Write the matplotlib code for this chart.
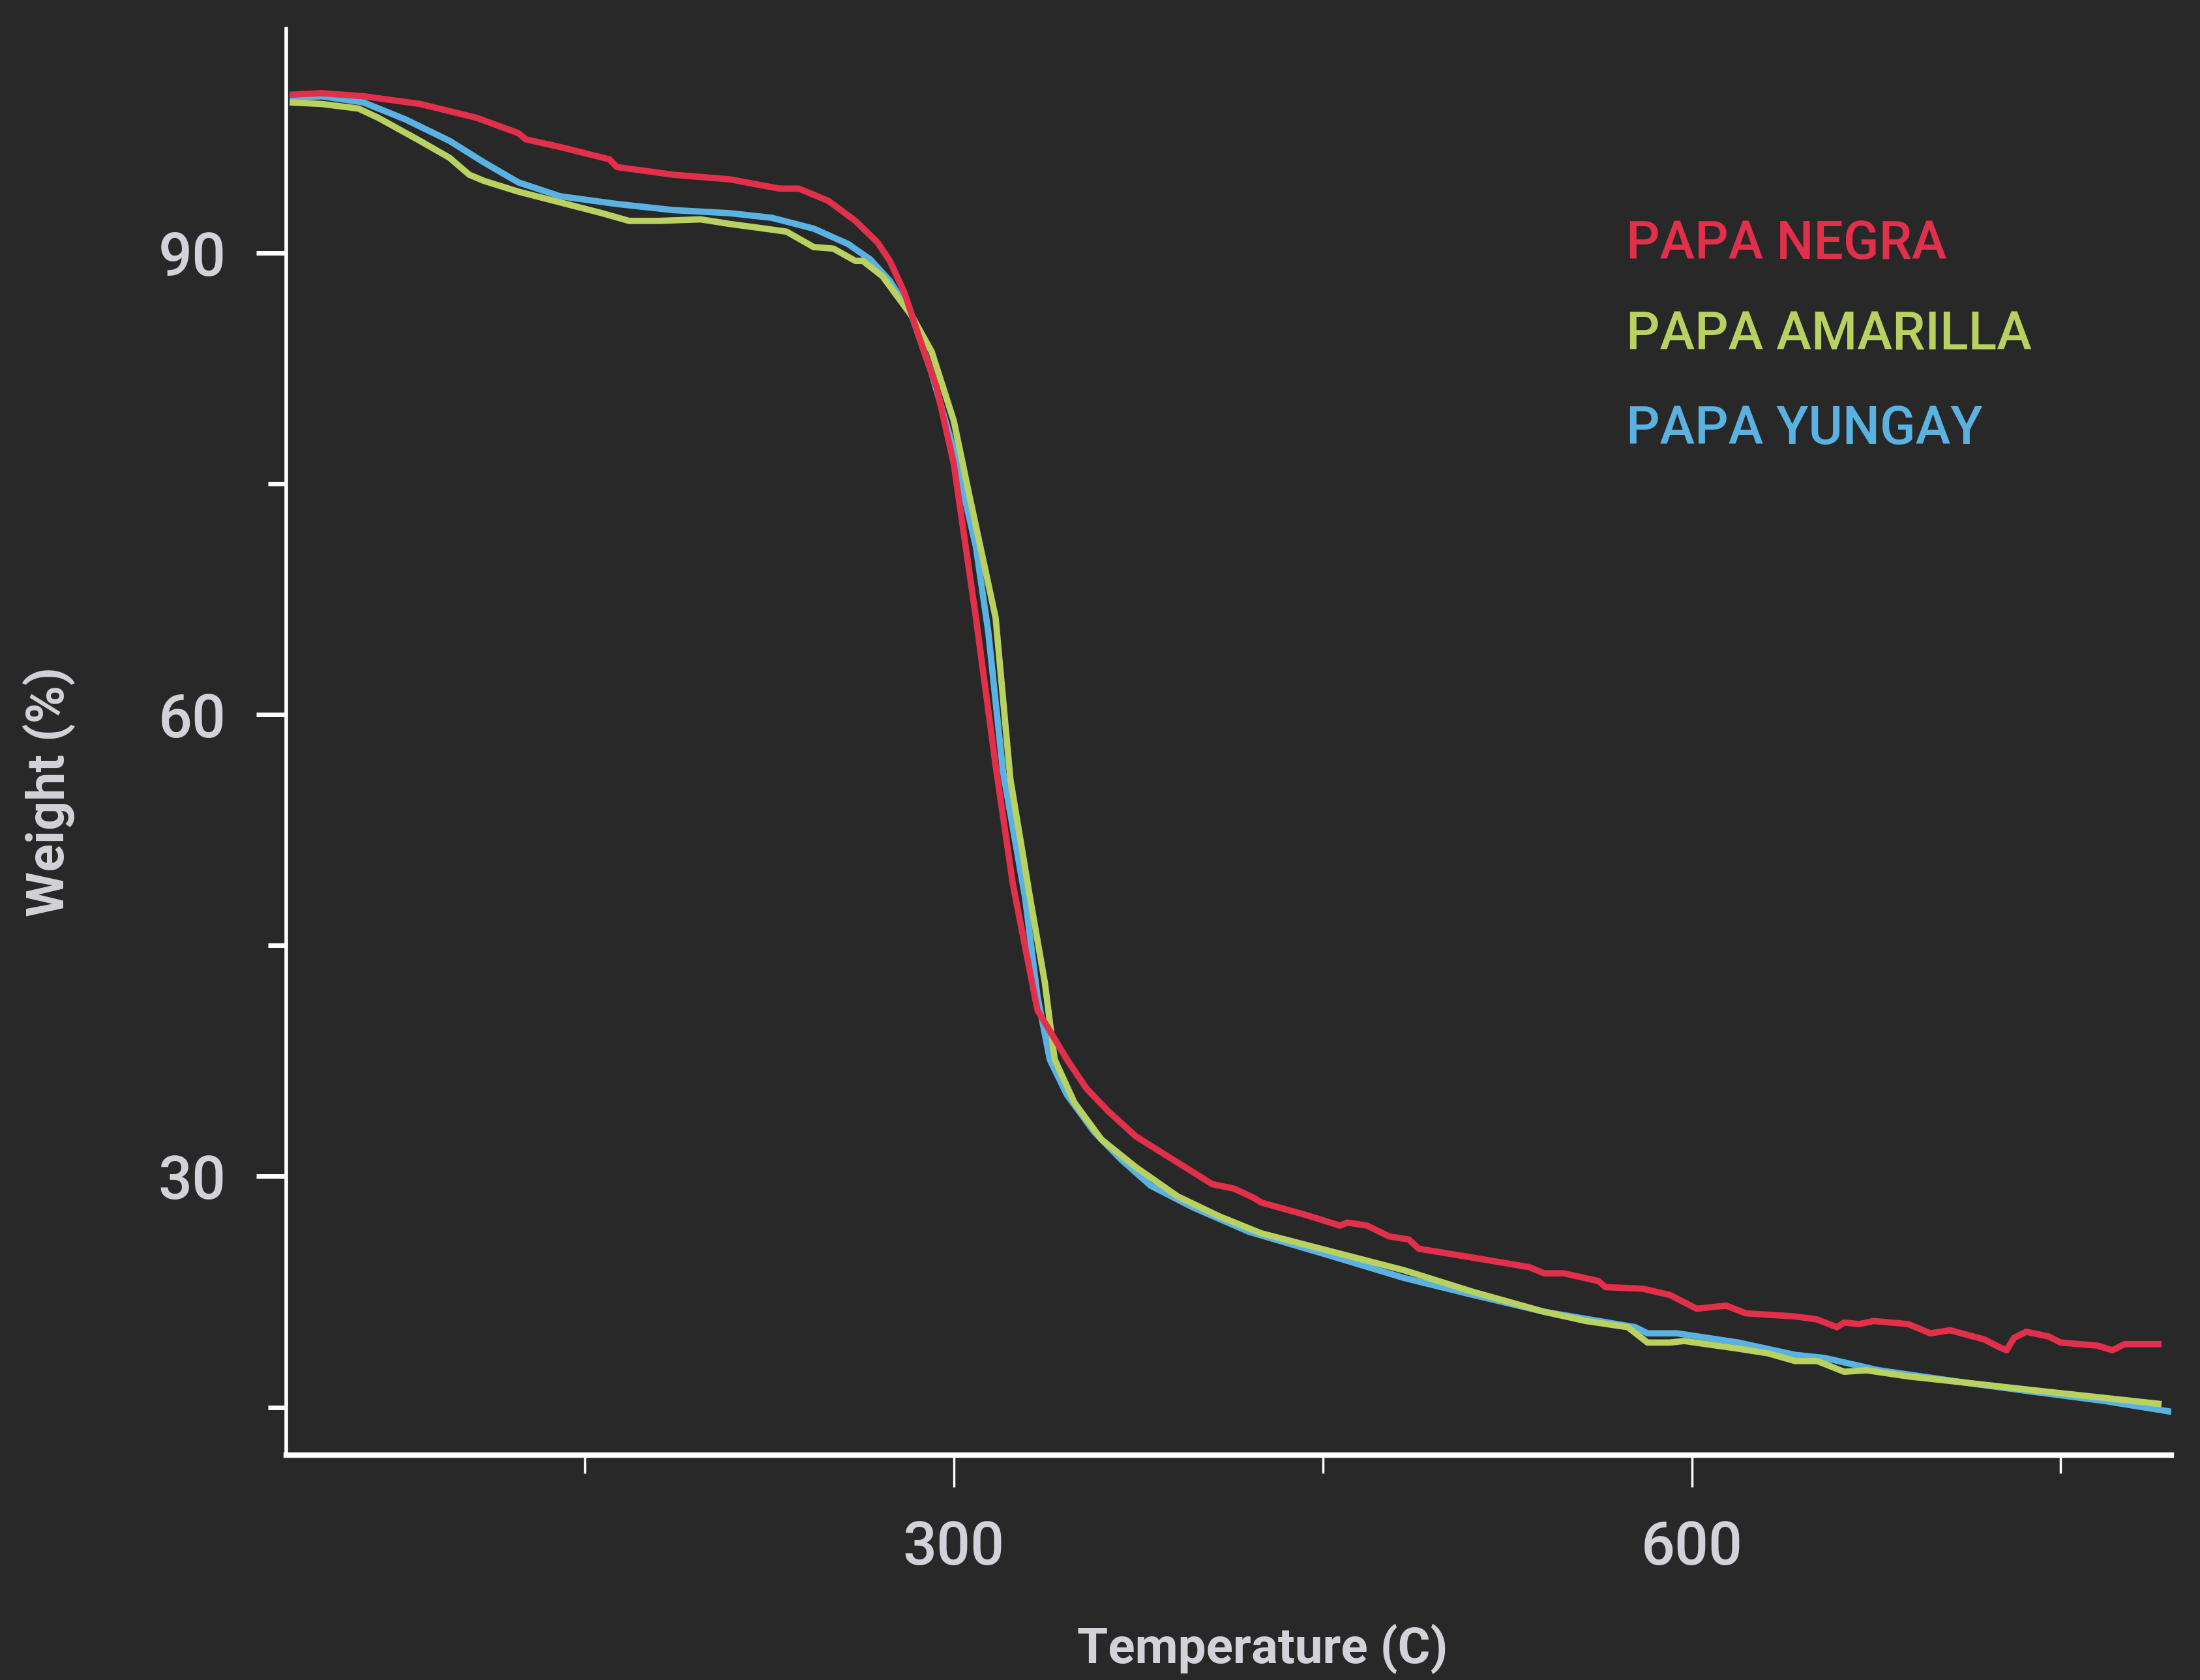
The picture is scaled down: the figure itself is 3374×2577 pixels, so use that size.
"""
TGA curves for three potato varieties, dark theme.
"""
import matplotlib
matplotlib.use("Agg")
import matplotlib.pyplot as plt
from matplotlib.ticker import FixedLocator, NullFormatter

DARK_BG  = "#282828"
TEXT_CLR = "#d3d2da"
AXIS_CLR = "#ffffff"
RED_CLR  = "#e3304a"
GRN_CLR  = "#b8d160"
BLU_CLR  = "#5ab2e2"

FONT = ["Roboto", "DejaVu Sans"]

# ── Data ──────────────────────────────────────────────────────────────────────
negra_temp = [30, 43, 60, 83, 106, 123, 126, 140, 160, 163, 186, 209, 229, 237,
              249, 260, 269, 274, 280, 286, 293, 300, 309, 317, 324, 334, 346,
              354, 363, 374, 388, 405, 414, 422, 425, 443, 457, 460, 468, 477,
              485, 489, 508, 534, 540, 548, 562, 565, 580, 591, 602, 614, 622,
              642, 651, 659, 662, 668, 674, 688, 697, 705, 719, 725, 728, 731,
              736, 745, 750, 765, 771, 776, 791]
negra_wt = [100.3, 100.4, 100.2, 99.7, 98.8, 97.8, 97.4, 96.9, 96.1, 95.6, 95.1,
            94.8, 94.2, 94.2, 93.4, 92.1, 90.7, 89.5, 87.4, 84.5, 81.3, 76.3,
            66.3, 56.7, 49.0, 40.8, 37.6, 35.7, 34.2, 32.6, 31.2, 29.5, 29.2,
            28.6, 28.3, 27.5, 26.8, 27.0, 26.8, 26.1, 25.9, 25.3, 24.8, 24.1,
            23.7, 23.7, 23.2, 22.8, 22.7, 22.3, 21.4, 21.6, 21.1, 20.9, 20.7,
            20.2, 20.5, 20.4, 20.6, 20.4, 19.8, 20.0, 19.4, 18.9, 18.7, 19.5,
            19.9, 19.6, 19.2, 19.0, 18.7, 19.1, 19.1]

amarilla_temp = [30, 43, 58, 66, 83, 95, 103, 109, 123, 140, 157, 168, 180, 197,
                 209, 223, 232, 243, 251, 260, 263, 271, 283, 291, 300, 306, 317,
                 323, 331, 337, 341, 349, 360, 374, 391, 408, 425, 454, 483, 511,
                 540, 557, 574, 582, 591, 597, 619, 631, 642, 651, 662, 671, 688,
                 711, 739, 768, 791]
amarilla_wt = [99.8, 99.7, 99.4, 98.8, 97.3, 96.2, 95.1, 94.7, 94.0, 93.3, 92.6,
               92.1, 92.1, 92.2, 91.9, 91.6, 91.4, 90.4, 90.3, 89.5, 89.5, 88.5,
               85.9, 83.6, 79.1, 74.5, 66.3, 55.8, 48.1, 42.6, 37.6, 34.8, 32.4,
               30.6, 28.7, 27.4, 26.3, 25.1, 23.9, 22.5, 21.2, 20.6, 20.2, 19.2,
               19.2, 19.3, 18.8, 18.5, 18.0, 18.0, 17.3, 17.4, 17.0, 16.6, 16.1,
               15.6, 15.2]

yungay_temp = [30, 43, 60, 77, 95, 109, 123, 140, 163, 186, 209, 226, 243, 257,
               266, 274, 283, 291, 300, 309, 314, 320, 329, 334, 339, 346, 357,
               368, 380, 397, 420, 454, 483, 511, 540, 577, 582, 594, 619, 642,
               654, 676, 711, 739, 768, 795]
yungay_wt = [100.1, 100.2, 99.8, 98.7, 97.3, 95.9, 94.6, 93.7, 93.2, 92.8, 92.6,
             92.3, 91.6, 90.6, 89.6, 88.2, 85.9, 82.2, 77.2, 70.9, 65.4, 56.3,
             48.1, 41.7, 37.6, 35.3, 32.9, 31.1, 29.4, 28.0, 26.4, 24.8, 23.4,
             22.3, 21.2, 20.2, 19.8, 19.8, 19.2, 18.4, 18.2, 17.4, 16.6, 16.0,
             15.4, 14.7]

series = [
    ("PAPA NEGRA",    negra_temp,    negra_wt,    RED_CLR),
    ("PAPA AMARILLA", amarilla_temp, amarilla_wt, GRN_CLR),
    ("PAPA YUNGAY",   yungay_temp,   yungay_wt,   BLU_CLR),
]

x_major = [300, 600]
x_minor = [150, 450, 750]
y_major = [30, 60, 90]
y_minor = [15, 45, 75]

# ── Figure ─────────────────────────────────────────────────────────────────────
fig = plt.figure(figsize=(33.74, 25.77), dpi=100, facecolor=DARK_BG)
ax = fig.add_axes([0.130, 0.134, 0.857, 0.849])
ax.set_facecolor(DARK_BG)

# draw order: yungay under, negra on top like the reference
for name, t, w, clr in [series[2], series[1], series[0]]:
    ax.plot(t, w, color=clr, linewidth=7, solid_joinstyle="round",
            solid_capstyle="butt", zorder=3)

ax.set_xlim(28.5, 795)
ax.set_ylim(11.9, 104.6)

for side in ("top", "right"):
    ax.spines[side].set_visible(False)
ax.spines["left"].set_color(AXIS_CLR)
ax.spines["left"].set_linewidth(4)
ax.spines["bottom"].set_color(AXIS_CLR)
ax.spines["bottom"].set_linewidth(6)

ax.xaxis.set_major_locator(FixedLocator(x_major))
ax.xaxis.set_minor_locator(FixedLocator(x_minor))
ax.yaxis.set_major_locator(FixedLocator(y_major))
ax.yaxis.set_minor_locator(FixedLocator(y_minor))
ax.xaxis.set_minor_formatter(NullFormatter())
ax.yaxis.set_minor_formatter(NullFormatter())

ax.tick_params(axis="x", which="major", length=35, width=2.5, color=AXIS_CLR,
               pad=36, labelsize=66, labelcolor=TEXT_CLR)
ax.tick_params(axis="x", which="minor", length=20, width=2.5, color=AXIS_CLR)
ax.tick_params(axis="y", which="major", length=33, width=5, color=AXIS_CLR,
               pad=33, labelsize=66, labelcolor=TEXT_CLR)
ax.tick_params(axis="y", which="minor", length=20, width=5, color=AXIS_CLR)
for lbl in ax.get_xticklabels() + ax.get_yticklabels():
    lbl.set_family(FONT)
    lbl.set_fontweight("medium")

ax.set_xlabel("Temperature (C)", color=TEXT_CLR, fontsize=55, fontweight="bold",
              family=FONT)
ax.xaxis.set_label_coords(0.518, -0.136)
ax.xaxis.label.set_va("center")
ax.set_ylabel("Weight (%)", color=TEXT_CLR, fontsize=57, fontweight="bold",
              family=FONT)
ax.yaxis.set_label_coords(-0.126, 0.465)
ax.yaxis.label.set_va("center")

# legend as coloured text
leg_y = [0.8387, 0.7748, 0.7089]
for (name, _, _, clr), y in zip(series, leg_y):
    ax.text(0.711, y, name, transform=ax.transAxes, color=clr, fontsize=58,
            fontweight="medium", family=FONT, va="baseline", ha="left")

fig.savefig("out.png", dpi=100, facecolor=DARK_BG)
plt.close(fig)
